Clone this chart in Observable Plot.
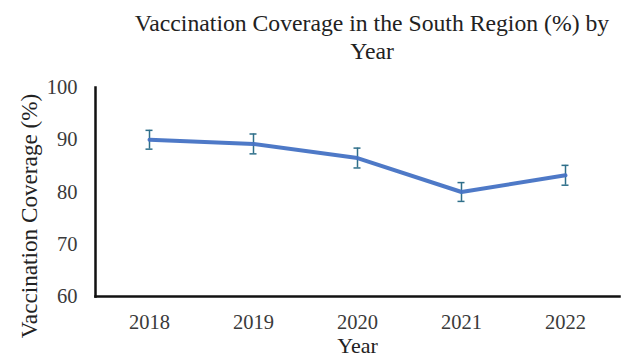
<!DOCTYPE html>
<html><head><meta charset="utf-8">
<script src="https://cdn.jsdelivr.net/npm/d3@7"></script>
<script src="https://cdn.jsdelivr.net/npm/@observablehq/plot@0.6"></script>
<style>
body{margin:0;background:#fff;}
#wrap{position:relative;width:632px;height:360px;font-family:"Liberation Serif","Times New Roman",serif;}
#title{position:absolute;left:100px;width:544px;top:9px;text-align:center;font-size:23.7px;line-height:28px;color:#222;}
#chart{position:absolute;left:0;top:0;}
</style></head>
<body><div id="wrap"><div id="chart"></div><div id="title">Vaccination Coverage in the South Region (%) by<br>Year</div></div>
<script>
const years = ["2018","2019","2020","2021","2022"];
const coverage = [90.0, 89.2, 86.5, 80.0, 83.2];
const errors = [1.8, 1.9, 1.9, 1.8, 1.9];
const yTicks = [60,70,80,90,100];
const xLabel = "Year";
const yLabel = "Vaccination Coverage (%)";

const data = years.map((y,i)=>({year:y, v:coverage[i], lo:coverage[i]-errors[i], hi:coverage[i]+errors[i]}));
const errColor = "#2f6f8a";
const plot = Plot.plot({
  width:632, height:360,
  marginLeft:95, marginRight:13, marginTop:87, marginBottom:64,
  style:{fontFamily:'"Liberation Serif","Times New Roman",serif', background:"#fff"},
  x:{type:"band", domain:years, padding:0},
  y:{domain:[60,100]},
  marks:[
    Plot.axisY({ticks:yTicks, tickSize:0, tickPadding:18, fontSize:20.5, label:null, color:"#3a3a3a"}),
    Plot.axisX({tickSize:0, tickPadding:18, fontSize:20.5, label:null, color:"#3a3a3a"}),
    Plot.ruleX(data,{x:"year", y1:"lo", y2:"hi", stroke:errColor, strokeWidth:1.5}),
    Plot.tickY(data,{x:"year", y:"lo", stroke:errColor, strokeWidth:1.5, insetLeft:48.5, insetRight:48.5}),
    Plot.tickY(data,{x:"year", y:"hi", stroke:errColor, strokeWidth:1.5, insetLeft:48.5, insetRight:48.5}),
    Plot.line(data,{x:"year", y:"v", stroke:"#4472c4", strokeWidth:4, strokeOpacity:0.95}),
    Plot.frame({anchor:"left", stroke:"#111", strokeWidth:2.5}),
    Plot.frame({anchor:"bottom", stroke:"#111", strokeWidth:2.5}),
    Plot.text([xLabel],{frameAnchor:"bottom", dy:56, fontSize:22, fill:"#222"}),
    Plot.text([yLabel],{frameAnchor:"left", textAnchor:"middle", rotate:-90, dx:-66, dy:24, fontSize:23.2, fill:"#222"})
  ]
});
document.getElementById("chart").appendChild(plot);
</script></body></html>
